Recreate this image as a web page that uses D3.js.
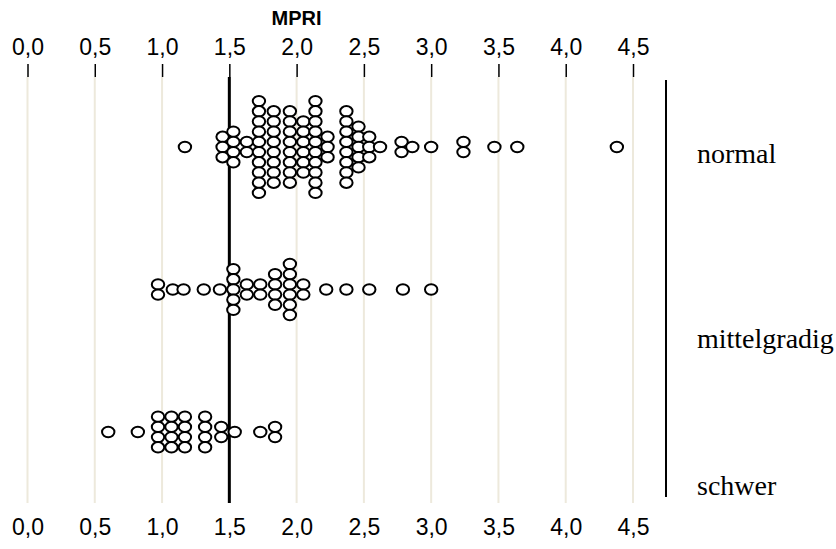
<!DOCTYPE html>
<html>
<head>
<meta charset="utf-8">
<style>
  body { margin: 0; background: #fff; }
  svg { position: absolute; top: 0px; left: 0px; }
  .tick-label { font-family: "Liberation Sans", Arial, sans-serif; font-size: 23px; fill: #000; }
  .title { font-family: "Liberation Sans", Arial, sans-serif; font-size: 20px; font-weight: bold; }
  .group-label { font-family: "Liberation Serif", "Times New Roman", serif; font-size: 28px; }
  .grid { stroke: #ede9dc; stroke-width: 2px; }
  .dot { fill: #fff; stroke: #000; stroke-width: 2px; }
</style>
<script src="https://cdnjs.cloudflare.com/ajax/libs/d3/7.8.5/d3.min.js"></script>
</head>
<body>
<svg width="836" height="549"></svg>
<script>
// data (MPRI value of each column, and how many dots stack there)
var tickValues = [0, 0.5, 1, 1.5, 2, 2.5, 3, 3.5, 4, 4.5];
var groups = ["normal", "mittelgradig", "schwer"];

var normalMPRI  = [1.17, 1.45, 1.53, 1.63, 1.72, 1.83, 1.95, 2.05, 2.14, 2.23, 2.37, 2.46, 2.54, 2.62, 2.78, 2.86, 3.00, 3.24, 3.47, 3.64, 4.38];
var normalCount = [1,    3,    4,    2,    10,   8,    8,    6,    10,   3,    8,    5,    3,    1,    2,    1,    1,    2,    1,    1,    1];

var mittelMPRI  = [0.97, 1.08, 1.16, 1.31, 1.43, 1.53, 1.63, 1.73, 1.84, 1.95, 2.05, 2.22, 2.37, 2.54, 2.79, 3.00];
var mittelCount = [2,    1,    1,    1,    1,    5,    2,    2,    4,    6,    2,    1,    1,    1,    1,    1];

var schwerMPRI  = [0.60, 0.82, 0.97, 1.07, 1.17, 1.32, 1.44, 1.54, 1.73, 1.84];
var schwerCount = [1,    1,    4,    4,    4,    4,    2,    1,    1,    2];

var cutoff = 1.5;

var svg = d3.select("svg"),
	width = +svg.attr("width"),
	height = +svg.attr("height");

var x = d3.scaleLinear().domain([0, 4.5]).range([27.5, 633]);
var y = d3.scalePoint().domain(groups).range([147, 432]);

var comma = d3.formatLocale({decimal: ",", thousands: ".", grouping: [3], currency: ["", " €"]}).format(".1f");

var tickTop = 64, gridTop = 77, gridBottom = 503;

// light gridlines
svg.append("g").selectAll("line").data(tickValues).join("line")
	.attr("class", "grid")
	.attr("x1", function(d) { return x(d); }).attr("x2", function(d) { return x(d); })
	.attr("y1", gridTop).attr("y2", gridBottom);

// top axis: short black ticks + labels
var axisTop = d3.axisTop(x).tickValues(tickValues).tickFormat(comma).tickSize(0).tickPadding(0);
var gTop = svg.append("g").attr("transform", "translate(0," + tickTop + ")").call(axisTop);
gTop.select(".domain").remove();
gTop.selectAll(".tick line").attr("y2", gridTop - tickTop).attr("stroke", "#000").attr("stroke-width", 1.5);
gTop.selectAll(".tick text").attr("class", "tick-label").attr("y", -17).attr("dy", "0.35em");
gTop.attr("font-size", null).attr("font-family", null);

// bottom labels
var axisBottom = d3.axisBottom(x).tickValues(tickValues).tickFormat(comma).tickSize(0).tickPadding(0);
var gBot = svg.append("g").attr("transform", "translate(0,527)").call(axisBottom);
gBot.select(".domain").remove();
gBot.selectAll(".tick text").attr("class", "tick-label").attr("y", 0).attr("dy", "0.35em");
gBot.attr("font-size", null).attr("font-family", null);

// title
svg.append("text").attr("class", "title")
	.attr("x", x(2)).attr("y", 25).attr("text-anchor", "middle").text("MPRI");

// cutoff line
svg.append("line")
	.attr("x1", x(cutoff)).attr("x2", x(cutoff))
	.attr("y1", gridTop).attr("y2", gridBottom)
	.attr("stroke", "#000").attr("stroke-width", 3);

// right separator
svg.append("line")
	.attr("x1", 666).attr("x2", 666).attr("y1", 80).attr("y2", 497)
	.attr("stroke", "#000").attr("stroke-width", 2);

// group labels
var labelY = [163, 348, 495];
svg.append("g").selectAll("text").data(groups).join("text")
	.attr("class", "group-label")
	.attr("x", 697).attr("y", function(d, i) { return labelY[i]; })
	.text(function(d) { return d; });

// dots: stack each column centred on its group line
var series = [
	{group: "normal", values: normalMPRI, counts: normalCount},
	{group: "mittelgradig", values: mittelMPRI, counts: mittelCount},
	{group: "schwer", values: schwerMPRI, counts: schwerCount}
];
var step = 10.2;
var dots = [];
series.forEach(function(s) {
	s.values.forEach(function(v, i) {
		var n = s.counts[i];
		for (var k = 0; k < n; k++) {
			dots.push({value: v, group: s.group, off: (k - (n - 1) / 2) * step});
		}
	});
});

svg.append("g").selectAll("ellipse").data(dots).join("ellipse")
	.attr("class", "dot")
	.attr("cx", function(d) { return x(d.value); })
	.attr("cy", function(d) { return y(d.group) + d.off; })
	.attr("rx", 6.2).attr("ry", 5.2);
</script>
</body>
</html>
